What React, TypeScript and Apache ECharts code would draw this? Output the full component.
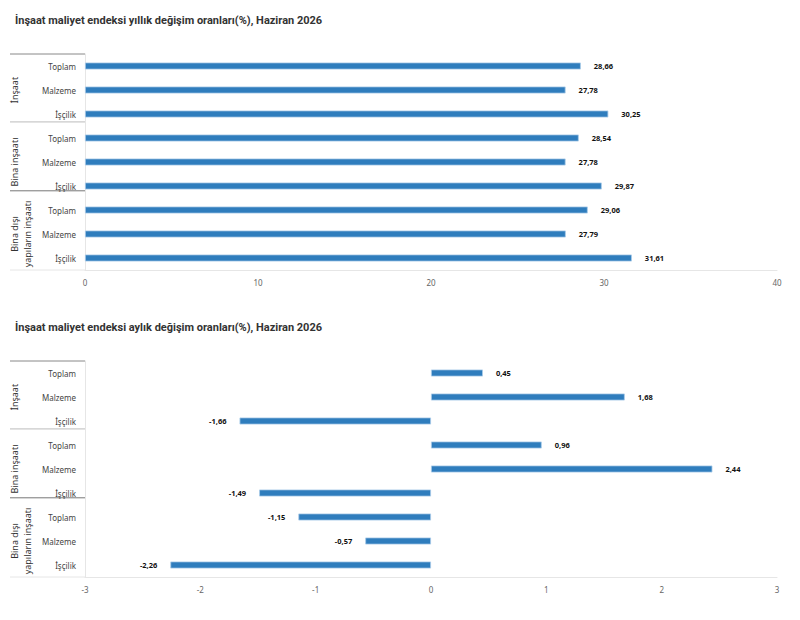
import React, { useEffect, useRef } from "react";
import * as echarts from "echarts";

const groups = ["İnşaat", "Bina inşaatı", "Bina dışı\nyapıların inşaatı"];
const items = ["Toplam", "Malzeme", "İşçilik"];
const titles = [
  "İnşaat maliyet endeksi yıllık değişim oranları(%), Haziran 2026",
  "İnşaat maliyet endeksi aylık değişim oranları(%), Haziran 2026",
];
const annualValues = [28.66, 27.78, 30.25, 28.54, 27.78, 29.87, 29.06, 27.79, 31.61];
const monthlyValues = [0.45, 1.68, -1.66, 0.96, 2.44, -1.49, -1.15, -0.57, -2.26];
const annualTicks = { min: 0, max: 40, interval: 10 };
const monthlyTicks = { min: -3, max: 3, interval: 1 };

const FONT = "'Noto Sans', sans-serif";
const TITLE_FONT = "Roboto, sans-serif";
const BAR = "#2f7dbd";

export default function App() {
  const ref = useRef<HTMLDivElement>(null);
  useEffect(() => {
    if (!ref.current) return;
    const chart = echarts.init(ref.current, undefined, { renderer: "svg" });
    const categories: string[] = [];
    groups.forEach((g, gi) => items.forEach((it) => categories.push(gi + "|" + it)));
    const datasets = [annualValues, monthlyValues];
    const ticks = [annualTicks, monthlyTicks];
    const gridTops = [54, 361];
    const gridHeight = 216;
    const fmt = (v: number) => v.toFixed(2).replace(".", ",");

    const option: any = {
      animation: false,
      title: titles.map((t, i) => ({
        text: t,
        left: 10,
        top: gridTops[i] - 44,
        textStyle: { fontSize: 11, fontWeight: "bold", color: "#333", fontFamily: TITLE_FONT },
      })),
      grid: gridTops.map((top) => ({ left: 85, right: 23, top, height: gridHeight })),
      xAxis: ticks.map((t, i) => ({
        type: "value",
        gridIndex: i,
        min: t.min,
        max: t.max,
        interval: t.interval,
        splitLine: { show: false },
        axisTick: { show: false },
        axisLine: { show: true, lineStyle: { color: "#e6e6e6" } },
        axisLabel: { color: "#666", fontSize: 8, margin: 8, fontFamily: FONT },
      })),
      yAxis: ticks.map((_, i) => ({
        type: "category",
        gridIndex: i,
        inverse: true,
        data: categories,
        axisTick: { show: false },
        axisLine: { show: true, onZero: false, lineStyle: { color: "#e6e6e6" } },
        axisLabel: {
          color: "#444",
          fontSize: 8,
          margin: 9,
          fontFamily: FONT,
          formatter: (v: string) => v.split("|")[1],
        },
      })),
      series: datasets.map((vals, i) => ({
        type: "bar",
        xAxisIndex: i,
        yAxisIndex: i,
        barWidth: 7,
        itemStyle: { color: BAR, borderColor: "#a9cbe8", borderWidth: 0.8 },
        data: vals.map((v) => ({
          value: v,
          label: { position: v < 0 ? "left" : "right" },
        })),
        label: {
          show: true,
          distance: 13,
          color: "#111",
          fontSize: 7.5,
          fontWeight: "bold",
          fontFamily: FONT,
          formatter: (p: any) => fmt(p.value),
        },
      })),
    };
    chart.setOption(option);

    const graphics: any[] = [];
    const sepFrac = [0.33, 0.2];
    const sepColors = ["#bbb", "#777"];
    [0, 1].forEach((gi) => {
      const c = categories.map((_, k) => chart.convertToPixel({ yAxisIndex: gi }, k) as number);
      const band = c[1] - c[0];
      const top = c[0] - band / 2;
      const bottom = c[c.length - 1] + band / 2;
      const line = (y: number, color: string) =>
        graphics.push({
          type: "line",
          shape: { x1: 10, y1: y, x2: 85, y2: y },
          style: { stroke: color, lineWidth: 1 },
          silent: true,
        });
      line(top, "#888");
      line(bottom, "#e6e6e6");
      groups.forEach((g, k) => {
        const idx = k * items.length;
        if (k < groups.length - 1) {
          const last = c[idx + items.length - 1];
          line(last + band * sepFrac[k], sepColors[k]);
        }
        let mid = 0;
        for (let j = 0; j < items.length; j++) mid += c[idx + j];
        mid /= items.length;
        graphics.push({
          type: "text",
          x: 8,
          y: mid,
          rotation: Math.PI / 2,
          silent: true,
          style: {
            text: g,
            fill: "#333",
            fontSize: 9,
            lineHeight: 13,
            fontFamily: FONT,
            align: "center",
            verticalAlign: "top",
          },
        });
      });
    });
    chart.setOption({ graphic: graphics });

    return () => chart.dispose();
  }, []);
  return (
    <div
      ref={ref}
      style={{ position: "absolute", left: 0, top: 0, width: 800, height: 620, background: "#fff" }}
    />
  );
}
